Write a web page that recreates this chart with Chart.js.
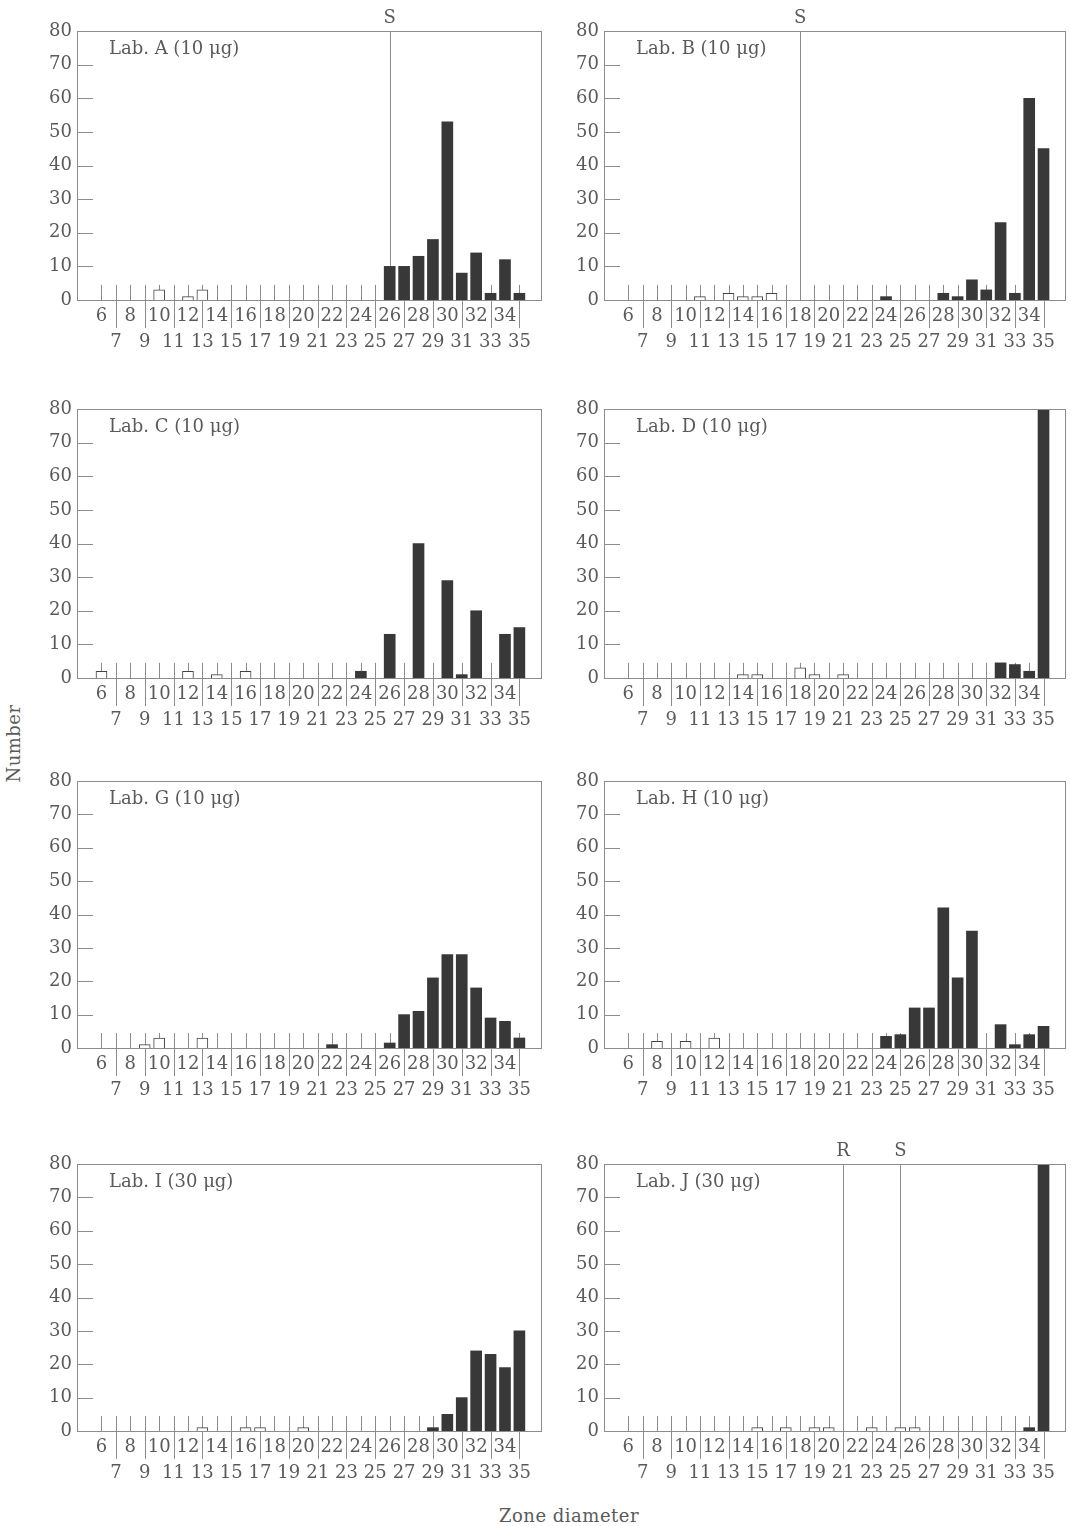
<!DOCTYPE html>
<html>
<head>
<meta charset="utf-8">
<script src="https://cdn.jsdelivr.net/npm/chart.js@4"></script>
<style>
  body { margin: 0; background: #fff; width: 1071px; height: 1526px; position: relative; overflow: hidden; font-family: 'DejaVu Serif', serif; color: #555; }
  canvas { position: absolute; }
  .axis-title { position: absolute; font-size: 18px; color: #5a5a5a; white-space: nowrap; letter-spacing: 0.5px; }
</style>
</head>
<body>
<canvas id="labA" width="517" height="354" style="left:30px;top:6px"></canvas>
<canvas id="labB" width="514" height="354" style="left:557px;top:6px"></canvas>
<canvas id="labC" width="517" height="354" style="left:30px;top:384px"></canvas>
<canvas id="labD" width="514" height="354" style="left:557px;top:384px"></canvas>
<canvas id="labG" width="517" height="352" style="left:30px;top:756px"></canvas>
<canvas id="labH" width="514" height="352" style="left:557px;top:756px"></canvas>
<canvas id="labI" width="517" height="352" style="left:30px;top:1139px"></canvas>
<canvas id="labJ" width="514" height="352" style="left:557px;top:1139px"></canvas>
<div class="axis-title" style="left:-26px;top:733px;transform:rotate(-90deg)">Number</div>
<div class="axis-title" style="left:499px;top:1505px">Zone diameter</div>
<script>
// zone diameters (mm), one bar slot each
const diameters = [6,7,8,9,10,11,12,13,14,15,16,17,18,19,20,21,22,23,24,25,26,27,28,29,30,31,32,33,34,35];
const yTickValues = [0,10,20,30,40,50,60,70,80];

// counts: open bars / filled bars
const labA_open   = [0,0,0,0,3,0,1,3,0,0, 0,0,0,0,0,0,0,0,0,0, 0,0,0,0,0,0,0,0,0,0];
const labA_filled = [0,0,0,0,0,0,0,0,0,0, 0,0,0,0,0,0,0,0,0,0, 10,10,13,18,53,8,14,2,12,2];
const labB_open   = [0,0,0,0,0,1,0,2,1,1, 2,0,0,0,0,0,0,0,0,0, 0,0,0,0,0,0,0,0,0,0];
const labB_filled = [0,0,0,0,0,0,0,0,0,0, 0,0,0,0,0,0,0,0,1,0, 0,0,2,1,6,3,23,2,60,45];
const labC_open   = [2,0,0,0,0,0,2,0,1,0, 2,0,0,0,0,0,0,0,0,0, 0,0,0,0,0,0,0,0,0,0];
const labC_filled = [0,0,0,0,0,0,0,0,0,0, 0,0,0,0,0,0,0,0,2,0, 13,0,40,0,29,1,20,0,13,15];
const labD_open   = [0,0,0,0,0,0,0,0,1,1, 0,0,3,1,0,1,0,0,0,0, 0,0,0,0,0,0,0,0,0,0];
const labD_filled = [0,0,0,0,0,0,0,0,0,0, 0,0,0,0,0,0,0,0,0,0, 0,0,0,0,0,0,4.5,4,2,80];
const labG_open   = [0,0,0,1,3,0,0,3,0,0, 0,0,0,0,0,0,0,0,0,0, 0,0,0,0,0,0,0,0,0,0];
const labG_filled = [0,0,0,0,0,0,0,0,0,0, 0,0,0,0,0,0,1,0,0,0, 1.5,10,11,21,28,28,18,9,8,3];
const labH_open   = [0,0,2,0,2,0,3,0,0,0, 0,0,0,0,0,0,0,0,0,0, 0,0,0,0,0,0,0,0,0,0];
const labH_filled = [0,0,0,0,0,0,0,0,0,0, 0,0,0,0,0,0,0,0,3.5,4, 12,12,42,21,35,0,7,1,4,6.5];
const labI_open   = [0,0,0,0,0,0,0,1,0,0, 1,1,0,0,1,0,0,0,0,0, 0,0,0,0,0,0,0,0,0,0];
const labI_filled = [0,0,0,0,0,0,0,0,0,0, 0,0,0,0,0,0,0,0,0,0, 0,0,0,1,5,10,24,23,19,30];
const labJ_open   = [0,0,0,0,0,0,0,0,0,1, 0,1,0,1,1,0,0,1,0,1, 1,0,0,0,0,0,0,0,0,0];
const labJ_filled = [0,0,0,0,0,0,0,0,0,0, 0,0,0,0,0,0,0,0,0,0, 0,0,0,0,0,0,0,0,1,80];

const panelTitles = ['Lab. A (10 μg)', 'Lab. B (10 μg)', 'Lab. C (10 μg)', 'Lab. D (10 μg)',
                     'Lab. G (10 μg)', 'Lab. H (10 μg)', 'Lab. I (30 μg)', 'Lab. J (30 μg)'];
// breakpoint lines (R / S) per panel
const breakA = [{ label: 'S', at: 26 }];
const breakB = [{ label: 'S', at: 18 }];
const breakJ = [{ label: 'R', at: 21 }, { label: 'S', at: 25 }];

const lineGray = '#8c8c8c';
const textGray = '#5a5a5a';
const barDark = '#383838';

Chart.defaults.font.family = "'DejaVu Serif', serif";
Chart.defaults.color = textGray;

const panelDecor = {
  id: 'panelDecor',
  beforeDatasetsDraw(chart, args, opts) {
    const { ctx, chartArea: a, scales: { x, y } } = chart;
    ctx.save();
    ctx.strokeStyle = lineGray;
    ctx.lineWidth = 1;
    ctx.beginPath();
    // short stubs at every diameter slot
    diameters.forEach(d => {
      const px = Math.round(x.getPixelForValue(d)) + 0.5;
      ctx.moveTo(px, y.getPixelForValue(0));
      ctx.lineTo(px, y.getPixelForValue(4.5));
    });
    // inner y ticks
    yTickValues.slice(1, -1).forEach(v => {
      const py = Math.round(y.getPixelForValue(v)) + 0.5;
      ctx.moveTo(a.left, py);
      ctx.lineTo(a.left + 16, py);
    });
    (opts.marks || []).forEach(m => {
      const px = Math.round(x.getPixelForValue(m.at)) + 0.5;
      ctx.moveTo(px, a.top);
      ctx.lineTo(px, a.bottom);
    });
    ctx.stroke();
    ctx.restore();
  },
  afterDatasetsDraw(chart, args, opts) {
    const { ctx, chartArea: a, scales: { x } } = chart;
    ctx.save();
    ctx.strokeStyle = lineGray;
    ctx.lineWidth = 1;
    ctx.strokeRect(Math.round(a.left) + 0.5, Math.round(a.top) + 0.5, Math.round(a.right - a.left), Math.round(a.bottom - a.top));
    // separators under the axis at odd diameters
    ctx.beginPath();
    diameters.filter(d => d % 2 === 1).forEach(d => {
      const px = Math.round(x.getPixelForValue(d)) + 0.5;
      ctx.moveTo(px, a.bottom);
      ctx.lineTo(px, a.bottom + 28);
    });
    ctx.stroke();
    ctx.fillStyle = textGray;
    ctx.font = "18px 'DejaVu Serif', serif";
    ctx.textBaseline = 'middle';
    ctx.textAlign = 'left';
    ctx.fillText(opts.title, a.left + 32, a.top + 18);
    ctx.textAlign = 'center';
    (opts.marks || []).forEach(m => {
      ctx.fillText(m.label, x.getPixelForValue(m.at), a.top - 13);
    });
    ctx.restore();
  }
};

function toPoints(vals) {
  return diameters.map((d, i) => ({ x: d, y: vals[i] })).filter(p => p.y > 0);
}

function drawPanel(id, title, openVals, filledVals, marks) {
  new Chart(document.getElementById(id), {
    type: 'bar',
    data: {
      datasets: [
        { label: 'open', data: toPoints(openVals), backgroundColor: '#fff', borderColor: '#444', borderWidth: 1, barThickness: 11, grouped: false },
        { label: 'filled', data: toPoints(filledVals), backgroundColor: barDark, borderWidth: 0, barThickness: 11, grouped: false }
      ]
    },
    options: {
      responsive: false,
      animation: false,
      layout: { padding: { top: 25, right: 6, left: 0, bottom: 0 } },
      plugins: { legend: { display: false }, tooltip: { enabled: false }, panelDecor: { title, marks } },
      scales: {
        x: {
          type: 'linear', min: 4.3, max: 36.5, offset: false,
          grid: { display: false, drawTicks: false }, border: { display: false },
          afterFit: s => { s.height = 60; },
          afterBuildTicks: s => { s.ticks = diameters.map(d => ({ value: d })); },
          ticks: {
            autoSkip: false, maxRotation: 0, padding: 3,
            font: { size: 18, lineHeight: 1.45 },
            callback: v => (v % 2 === 0 ? [String(v), ''] : ['', String(v)])
          }
        },
        y: {
          min: 0, max: 80,
          grid: { display: false, drawTicks: false }, border: { display: false },
          afterFit: s => { s.width = 47; },
          ticks: { stepSize: 10, padding: 5, font: { size: 18 } }
        }
      }
    },
    plugins: [panelDecor]
  });
}

drawPanel('labA', panelTitles[0], labA_open, labA_filled, breakA);
drawPanel('labB', panelTitles[1], labB_open, labB_filled, breakB);
drawPanel('labC', panelTitles[2], labC_open, labC_filled, []);
drawPanel('labD', panelTitles[3], labD_open, labD_filled, []);
drawPanel('labG', panelTitles[4], labG_open, labG_filled, []);
drawPanel('labH', panelTitles[5], labH_open, labH_filled, []);
drawPanel('labI', panelTitles[6], labI_open, labI_filled, []);
drawPanel('labJ', panelTitles[7], labJ_open, labJ_filled, breakJ);
</script>
</body>
</html>
